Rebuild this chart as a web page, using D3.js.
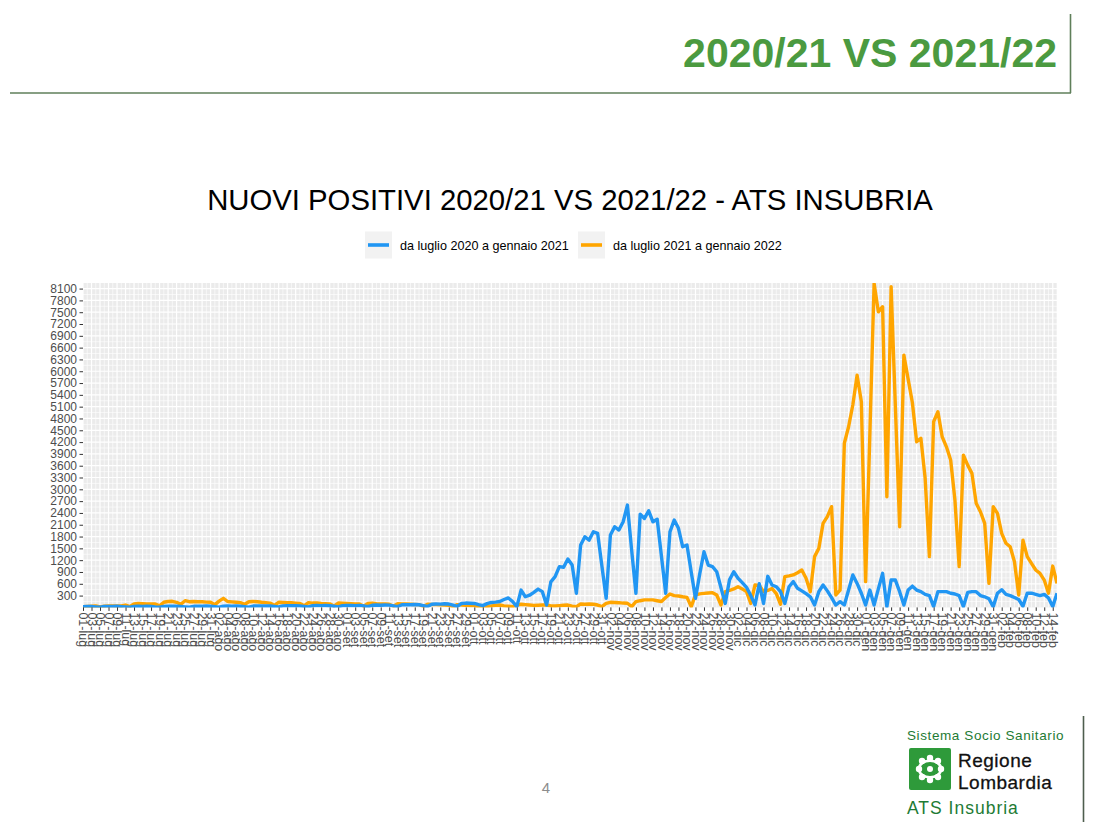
<!DOCTYPE html>
<html><head><meta charset="utf-8">
<script src="https://cdn.jsdelivr.net/npm/d3@7"></script>
<style>
body{margin:0;background:#fff;}
svg{display:block;font-family:"Liberation Sans",Arial,sans-serif;}
</style>
</head><body>
<svg id="c" width="1098" height="823"></svg>
<script>
// ---------- DATA ----------
const slideTitle = "2020/21 VS 2021/22";
const chartTitle = "NUOVI POSITIVI 2020/21 VS 2021/22 - ATS INSUBRIA";
const seriesNames = ["da luglio 2020 a gennaio 2021", "da luglio 2021 a gennaio 2022"];
const monthNames = ["gen","feb","mar","apr","mag","giu","lug","ago","set","ott","nov","dic"];
const firstDay = [2020, 6, 1];          // 01-lug
const tickEvery = 2;                     // one label every 2 days
const yTicks = d3.range(300, 8101, 300); // 300 ... 8100

// daily new positives, 01-lug -> 15-feb
const serie2020 = [
  20,24,22,14,6,22,26,24,28,20,14,6,24,28,26,30,22,12,5,26,30,28,32,24,14,6,28,32,30,34,28,
  18,8,30,34,32,38,30,20,8,34,38,36,40,34,22,10,40,44,42,46,38,26,12,44,48,46,50,42,30,14,46,
  48,52,46,50,38,18,54,60,56,62,58,40,20,66,70,66,74,68,45,22,80,88,84,92,86,55,25,100,110,105,
  100,70,45,95,125,135,150,200,240,150,20,440,270,310,380,465,400,60,650,780,1035,1020,1230,1075,360,1585,1795,1710,1920,1880,1050,
  230,1840,2050,1965,2175,2600,1450,360,2370,2260,2455,2175,2240,1300,360,1920,2220,2010,1540,1585,900,230,850,1415,1075,1035,905,500,100,700,
  905,740,630,510,300,60,600,100,790,570,525,400,100,525,655,485,420,350,270,60,400,570,420,250,60,145,60,440,825,610,360,
  60,440,60,470,865,20,695,695,400,60,440,540,440,400,330,300,20,400,400,400,360,340,300,20,380,400,400,300,270,220,20,
  360,450,330,300,250,200,30,360,360,330,300,330,240,20,360
];
const serie2021 = [
  20,25,30,35,15,30,40,40,35,35,60,20,90,100,95,85,85,85,40,130,150,155,130,80,170,145,150,145,145,135,130,
  70,160,230,150,140,130,120,80,145,150,145,130,120,110,50,130,125,120,120,110,100,40,120,110,115,100,95,90,35,110,105,
  100,95,90,85,30,100,110,95,90,85,80,30,95,90,85,80,75,70,25,80,75,70,65,60,55,20,70,60,55,50,
  45,20,30,25,40,50,60,40,30,20,60,80,70,60,50,55,60,60,40,35,45,55,60,30,20,85,80,85,80,60,20,
  100,130,125,120,110,105,20,145,170,190,190,190,170,150,250,340,300,290,270,255,20,320,345,355,365,375,315,60,400,430,
  470,525,470,400,100,570,560,400,430,480,350,80,780,800,825,880,950,740,400,1290,1500,2135,2305,2560,315,440,4170,4590,5150,5900,5225,
  655,4400,8230,7510,7640,2810,8145,5100,2050,6410,5800,5200,4210,4295,3280,1290,4720,4970,4335,4080,3745,2730,1035,3870,3615,3405,2645,2430,2135,610,2560,
  2390,1880,1630,1540,1160,315,1710,1290,1120,950,865,695,360,1050,610
];
const seriesColors = ["#2196F3", "#FFA500"];

// ---------- LAYOUT ----------
const svg = d3.select("#c");
const P = {left: 83, right: 1057, top: 283, bottom: 607.4};
const yMax = 8242;

const t0 = new Date(Date.UTC(firstDay[0], firstDay[1], firstDay[2]));
const dates = serie2020.map((_, i) => d3.utcDay.offset(t0, i));
const x = d3.scaleUtc().domain([dates[0], dates[dates.length - 1]]).range([P.left, P.right]);
const y = d3.scaleLinear().domain([0, yMax]).range([P.bottom, P.top]);
const fmt = d => String(d.getUTCDate()).padStart(2, "0") + "-" + monthNames[d.getUTCMonth()];

// slide header
svg.append("text").attr("x", 1057).attr("y", 67).attr("text-anchor", "end")
  .attr("font-size", 41).attr("font-weight", "bold").attr("fill", "#4b9a40").text(slideTitle);
svg.append("line").attr("x1", 10).attr("x2", 1071).attr("y1", 93).attr("y2", 93)
  .attr("stroke", "#5f7f5a").attr("stroke-width", 1.6);
svg.append("line").attr("x1", 1070.5).attr("x2", 1070.5).attr("y1", 14).attr("y2", 93)
  .attr("stroke", "#5f7f5a").attr("stroke-width", 1.6);

// chart title
svg.append("text").attr("x", 570).attr("y", 210).attr("text-anchor", "middle")
  .attr("font-size", 29.3).attr("fill", "#000").text(chartTitle);

// legend
const legX = [365, 578];
seriesNames.forEach((name, i) => {
  const g = svg.append("g").attr("transform", `translate(${legX[i]},231.5)`);
  g.append("rect").attr("width", 27).attr("height", 27).attr("fill", "#F2F2F2");
  g.append("line").attr("x1", 3).attr("x2", 24).attr("y1", 13.5).attr("y2", 13.5)
    .attr("stroke", seriesColors[i]).attr("stroke-width", 3.6);
  g.append("text").attr("x", 35).attr("y", 18).attr("font-size", 12.6).attr("fill", "#000").text(name);
});

// panel background
svg.append("rect").attr("x", P.left).attr("y", P.top).attr("width", P.right - P.left)
  .attr("height", P.bottom - P.top).attr("fill", "#EBEBEB");

const tickDates = dates.filter((_, i) => i % tickEvery === 0);
const minorDates = dates.filter((_, i) => i % tickEvery !== 0);
const yMinor = yTicks.map(v => v - 150).concat([yTicks[yTicks.length - 1] + 150]).filter(v => v > 0 && v < yMax);

const grid = svg.append("g");
grid.selectAll(".hm").data(yMinor).join("line")
  .attr("x1", P.left).attr("x2", P.right).attr("y1", d => y(d)).attr("y2", d => y(d))
  .attr("stroke", "#fff").attr("stroke-width", 0.6);
grid.selectAll(".vm").data(minorDates).join("line")
  .attr("y1", P.top).attr("y2", P.bottom).attr("x1", d => x(d)).attr("x2", d => x(d))
  .attr("stroke", "#fff").attr("stroke-width", 0.6);
grid.selectAll(".hM").data(yTicks).join("line")
  .attr("x1", P.left).attr("x2", P.right).attr("y1", d => y(d)).attr("y2", d => y(d))
  .attr("stroke", "#fff").attr("stroke-width", 1.2);
grid.selectAll(".vM").data(tickDates).join("line")
  .attr("y1", P.top).attr("y2", P.bottom).attr("x1", d => x(d)).attr("x2", d => x(d))
  .attr("stroke", "#fff").attr("stroke-width", 1.2);

// lines
svg.append("clipPath").attr("id", "clip").append("rect")
  .attr("x", P.left).attr("y", P.top).attr("width", P.right - P.left).attr("height", P.bottom - P.top);
const line = d3.line().x((d, i) => x(dates[i])).y(d => y(d));
const plotG = svg.append("g").attr("clip-path", "url(#clip)");
[serie2021, serie2020].forEach((s, k) => {
  plotG.append("path").datum(s).attr("d", line).attr("fill", "none")
    .attr("stroke", k === 0 ? seriesColors[1] : seriesColors[0])
    .attr("stroke-width", 3.4).attr("stroke-linejoin", "round").attr("stroke-linecap", "butt");
});

// axes
const yAxis = svg.append("g").attr("transform", `translate(${P.left},0)`)
  .call(d3.axisLeft(y).tickValues(yTicks).tickSize(3.5).tickPadding(2.5).tickFormat(d3.format("d")));
yAxis.select(".domain").remove();
yAxis.selectAll("line").attr("stroke", "#333");
yAxis.selectAll("text").attr("font-size", 12).attr("fill", "#4d4d4d")
  .attr("font-family", '"Liberation Sans",Arial,sans-serif');

const xAxis = svg.append("g").attr("transform", `translate(0,${P.bottom})`)
  .call(d3.axisBottom(x).tickValues(tickDates).tickSize(3.5).tickFormat(fmt));
xAxis.select(".domain").remove();
xAxis.selectAll("line").attr("stroke", "#333");
xAxis.selectAll("text").attr("font-size", 12.5).attr("fill", "#4d4d4d")
  .attr("font-family", '"Liberation Sans",Arial,sans-serif')
  .attr("transform", "rotate(90)").attr("x", 5).attr("y", 0).attr("dy", "0.35em")
  .attr("text-anchor", "start");

// page number
svg.append("text").attr("x", 546).attr("y", 793).attr("text-anchor", "middle")
  .attr("font-size", 15).attr("fill", "#8c8c8c").text("4");

// logo block
const lg = svg.append("g");
lg.append("line").attr("x1", 1083.5).attr("x2", 1083.5).attr("y1", 716).attr("y2", 822)
  .attr("stroke", "#4e5e4e").attr("stroke-width", 1.6);
lg.append("text").attr("x", 907).attr("y", 740).attr("font-size", 13.5).attr("fill", "#1e7b34")
  .attr("letter-spacing", 0.6).text("Sistema Socio Sanitario");
lg.append("rect").attr("x", 909).attr("y", 748).attr("width", 42).attr("height", 42).attr("rx", 2)
  .attr("fill", "#2e9a3a");
const rc = lg.append("g").attr("transform", "translate(930,769)").attr("fill", "#fff");
[[0,-11],[0,11],[-11,0],[11,0],[-8,-8],[8,-8],[-8,8],[8,8],[0,0]].forEach(([dx, dy], i) => {
  rc.append("circle").attr("cx", dx).attr("cy", dy).attr("r", i === 8 ? 3 : 3.2);
});
rc.append("path").attr("d", "M-11,0 C-11,-11 11,-11 11,0 C11,11 -11,11 -11,0 Z")
  .attr("fill", "none").attr("stroke", "#fff").attr("stroke-width", 2.6);
lg.append("text").attr("x", 958).attr("y", 767).attr("font-size", 19).attr("fill", "#111")
  .attr("stroke", "#111").attr("stroke-width", 0.3).attr("letter-spacing", 0.5).text("Regione");
lg.append("text").attr("x", 958).attr("y", 789).attr("font-size", 19).attr("fill", "#111")
  .attr("stroke", "#111").attr("stroke-width", 0.3).attr("letter-spacing", 0.5).text("Lombardia");
lg.append("text").attr("x", 907).attr("y", 814).attr("font-size", 17.5).attr("fill", "#1e7b34")
  .attr("letter-spacing", 1).text("ATS Insubria");
</script>
</body></html>
